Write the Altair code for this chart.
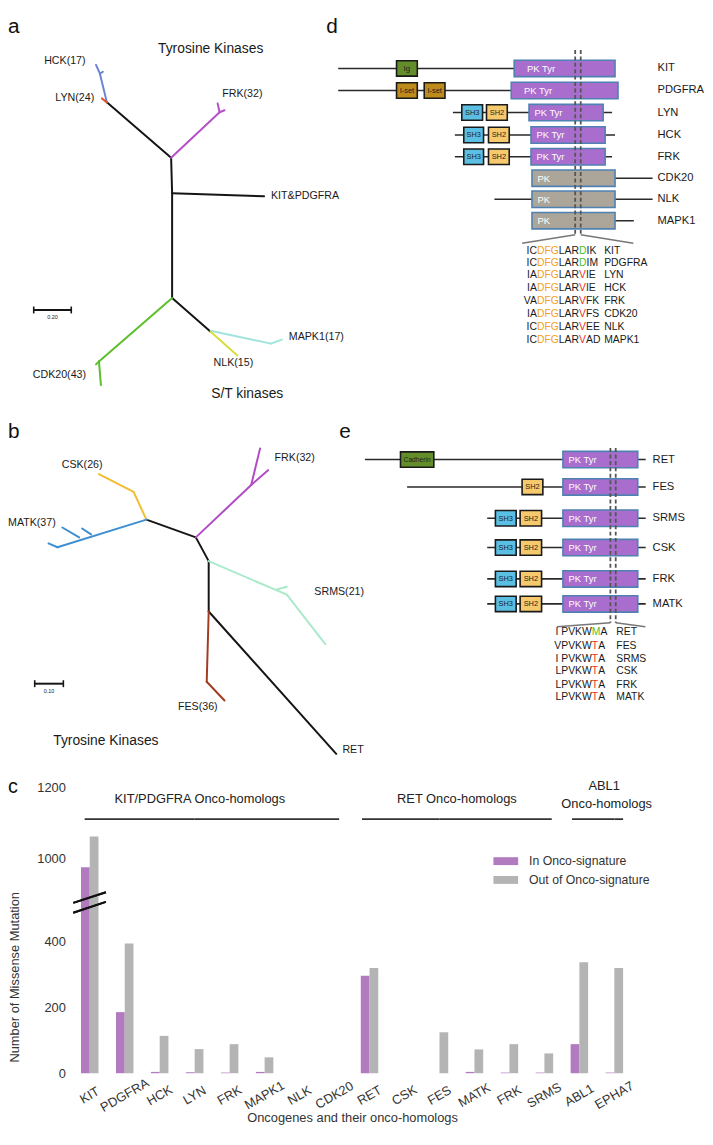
import altair as alt
import pandas as pd

FONT = "Liberation Sans, Arial, Helvetica, sans-serif"

# ====================== Panel c : missense mutation counts ======================
genes = ["KIT", "PDGFRA", "HCK", "LYN", "FRK", "MAPK1", "NLK", "CDK20",
         "RET", "CSK", "FES", "MATK", "FRK", "SRMS", "ABL1", "EPHA7"]
in_signature = [975, 185, 4, 3, 2, 4, 0, 0, 295, 0, 0, 4, 2, 2, 88, 2]
out_signature = [1062, 393, 113, 73, 88, 48, 0, 0, 319, 0, 124, 72, 88, 60, 336, 319]
series = ["In Onco-signature", "Out of Onco-signature"]
series_colors = ["#b27bc0", "#b4b4b4"]
y_tick_values = [0, 200, 400, 1000, 1200]
group_names = ["KIT/PDGFRA Onco-homologs", "RET Onco-homologs", "ABL1", "Onco-homologs"]
group_spans = [(0, 7), (8, 13), (14, 15)]

# ====================== Panels a & b : trees (layout units) ======================
BLACK = "#151515"
tree_a_edges = [
    (108, 97, 173, 153, BLACK), (173, 153, 174, 189, BLACK), (174, 189, 267, 192, BLACK),
    (174, 189, 174, 295, BLACK), (174, 295, 213, 329, BLACK),
    (173, 153, 222, 107, "#b54fc8"), (222, 107, 220, 98, "#b54fc8"), (222, 107, 227, 105, "#b54fc8"),
    (108, 97, 101, 68, "#6a84d4"), (101, 68, 97, 59, "#6a84d4"), (101, 68, 104, 66, "#6a84d4"),
    (108, 97, 103, 93, "#e0502a"),
    (213, 328, 274, 341, "#a0e4dc"), (274, 341, 285, 337, "#a0e4dc"),
    (213, 329, 240, 353, "#d9dd3c"),
    (174, 295, 100, 359, "#5cbf2a"), (100, 359, 102, 383, "#5cbf2a"), (100, 359, 97, 362, "#5cbf2a"),
]
tree_a_labels = [("HCK(17)", 65.5, 55, "center"), ("LYN(24)", 75.5, 93, "center"),
                 ("FRK(32)", 245, 89, "center"), ("KIT&PDGFRA", 274, 192, "left"),
                 ("MAPK1(17)", 292, 334, "left"), ("NLK(15)", 236, 361, "center"),
                 ("CDK20(43)", 60, 373, "center")]
tree_b_edges = [
    (148, 519, 198, 537, BLACK), (198, 537, 211, 561, BLACK), (211, 561, 211, 612, BLACK),
    (211, 612, 340, 756, BLACK),
    (148, 519, 135, 491, "#f2bd32"), (135, 491, 100, 473, "#f2bd32"),
    (148, 519, 58, 547, "#3f8fd2"), (58, 547, 49, 543, "#3f8fd2"),
    (80, 537, 63, 527, "#3f8fd2"), (92, 534, 83, 528, "#3f8fd2"),
    (198, 537, 254, 484, "#b04cc6"), (254, 484, 263, 447, "#b04cc6"), (254, 484, 271, 469, "#b04cc6"),
    (211, 561, 290, 595, "#a9eacb"), (290, 595, 329, 645, "#a9eacb"), (279, 590, 290, 587, "#a9eacb"),
    (211, 612, 209, 683, "#a23c22"), (209, 683, 227, 702, "#a23c22"),
]
tree_b_labels = [("CSK(26)", 83, 464, "center"), ("MATK(37)", 8, 523, "left"),
                 ("FRK(32)", 298, 457, "center"), ("SRMS(21)", 343, 592, "center"),
                 ("FES(36)", 200, 709, "center"), ("RET", 357, 752, "center")]
scale_bars = [(34, 72, 307, "0.20"), (35, 64, 685, "0.10")]
titles = [("Tyrosine Kinases", 213, 43), ("S/T kinases", 250, 392), ("Tyrosine Kinases", 107, 743)]
panel_letters = [("a", 8, 27), ("d", 330, 27), ("b", 8, 436), ("e", 343, 436)]

# ====================== Panel d : domain architecture (alignment units) ======================
d_genes = ["KIT", "PDGFRA", "LYN", "HCK", "FRK", "CDK20", "NLK", "MAPK1"]
d_row_y = [62.7, 85, 107.3, 130, 152, 173.7, 195, 216.7]
d_backbone = [(342, 520), (342, 517), (458, 619), (460, 622), (460, 619), (538, 660), (500, 660), (538, 641)]
d_kinase = [(520, 622), (517, 625), (535, 610), (537, 612), (537, 612), (538, 622), (538, 622), (538, 622)]
d_kinase_name = ["PK Tyr"] * 5 + ["PK"] * 3
d_domains = [[("Ig", 401, 422)], [("I-set", 401, 422), ("I-set", 429, 450)],
             [("SH3", 467, 488), ("SH2", 492, 513)], [("SH3", 469, 489), ("SH2", 494, 515)],
             [("SH3", 469, 489), ("SH2", 494, 515)], [], [], []]
d_seqs = ["ICDFGLARDIK", "ICDFGLARDIM", "IADFGLARVIE", "IADFGLARVIE",
          "VADFGLARVFK", "IADFGLARVFS", "ICDFGLARVEE", "ICDFGLARVAD"]
d_seq_y = [247, 259.7, 271.5, 284.7, 298, 311.3, 324.5, 337]

# ====================== Panel e ======================
e_genes = ["RET", "FES", "SRMS", "CSK", "FRK", "MATK"]
e_row_y = [458.3, 486, 517.7, 547.3, 579, 604.3]
e_backbone = [(369, 653), (411.7, 653), (492.7, 653), (492.7, 653), (492.7, 653), (492.7, 653)]
e_kinase = [(569.3, 645)] * 6
e_domains = [[("Cadherin", 405, 438.7)], [("SH2", 528, 549)]] + [[("SH3", 501, 522), ("SH2", 526, 547.7)]] * 4
e_prefix = ["I PVKW", "VPVKW", "I PVKW", "LPVKW", "LPVKW", "LPVKW"]
e_residue = ["M", "T", "T", "T", "T", "T"]
e_suffix = ["A", " A", " A", " A", " A", " A"]
e_seq_y = [632.7, 646.7, 660, 672.7, 686, 698.7]

DOMAIN_FILL = {"Ig": "#638d2a", "Cadherin": "#638d2a", "I-set": "#bd8a1c",
               "SH3": "#5bbfe3", "SH2": "#f7c96d"}
DOMAIN_SIZE = {"Ig": 8, "Cadherin": 6.8, "I-set": 7.5, "SH3": 7.5, "SH2": 7.5}
KIN_FILL = {"PK Tyr": "#a86dcd", "PK": "#aba699"}
ORANGE, GREEN, RED = "#f4a020", "#55c02a", "#e8321e"

# Arial / Liberation Sans advance widths (em), used to line up the coloured residues
ADV = {'A': .667, 'C': .722, 'D': .722, 'E': .667, 'F': .611, 'G': .778, 'I': .278, 'K': .667,
       'L': .556, 'M': .833, 'P': .667, 'R': .722, 'S': .667, 'T': .611, 'V': .667, 'W': .944, ' ': .278}


def tw(s, fs):
    return sum(ADV.get(c, .6) for c in s) * fs


# ====================== canvas (panels a, b, d, e) ======================
X = alt.X("x:Q", scale=alt.Scale(domain=[73, 705], nice=False, zero=False), axis=None)
Y = alt.Y("y:Q", scale=alt.Scale(domain=[8, 779], reverse=True, nice=False, zero=False), axis=None)


def rules(rows, dash=None, cap="butt"):
    df = pd.DataFrame(rows, columns=["x", "y", "x2", "y2", "color", "w"])
    kw = {"strokeCap": cap}
    if dash:
        kw["strokeDash"] = dash
    return alt.Chart(df).mark_rule(**kw).encode(
        x=X, y=Y, x2="x2:Q", y2="y2:Q",
        color=alt.Color("color:N", scale=None),
        strokeWidth=alt.StrokeWidth("w:Q", scale=None))


def rects(rows):
    df = pd.DataFrame(rows, columns=["x", "x2", "y", "y2", "fill", "stroke", "w"])
    return alt.Chart(df).mark_rect().encode(
        x=X, x2="x2:Q", y=Y, y2="y2:Q",
        fill=alt.Fill("fill:N", scale=None), stroke=alt.Stroke("stroke:N", scale=None),
        strokeWidth=alt.StrokeWidth("w:Q", scale=None))


def texts(rows, align, baseline="middle"):
    df = pd.DataFrame(rows, columns=["x", "y", "text", "size", "color"])
    return alt.Chart(df).mark_text(align=align, baseline=baseline, font=FONT).encode(
        x=X, y=Y, text="text:N", size=alt.Size("size:Q", scale=None),
        color=alt.Color("color:N", scale=None))


tree_rows = [(x1, y1, x2, y2, c, 2.0) for (x1, y1, x2, y2, c) in tree_a_edges + tree_b_edges]
bar_rows = []
for (xa, xb, yy, lab) in scale_bars:
    bar_rows += [(xa, yy, xb, yy, BLACK, 2.0), (xa, yy - 3.5, xa, yy + 3.5, BLACK, 1.6),
                 (xb, yy - 3.5, xb, yy + 3.5, BLACK, 1.6)]

backbone_rows, box_rows, left_txt, center_txt, right_txt = [], [], [], [], []
dash_rows, fan_rows = [], []

for g, yy, (b0, b1), (k0, k1), kn, doms in zip(d_genes, d_row_y, d_backbone, d_kinase, d_kinase_name, d_domains):
    backbone_rows.append((b0, yy, b1, yy, "#2a2a2a", 1.6))
    box_rows.append((k0, k1, yy - 8.3, yy + 8.3, KIN_FILL[kn], "#4f81b3", 1.6))
    pad = 13 if g in ("KIT", "PDGFRA") else 5.5
    left_txt.append((k0 + pad, yy + 0.5, kn, 9.5, "#ffffff"))
    for name, s0, s1 in doms:
        box_rows.append((s0, s1, yy - 7.8, yy + 7.8, DOMAIN_FILL[name], "#1a1a1a", 1.6))
        center_txt.append(((s0 + s1) / 2, yy + 0.5, name, DOMAIN_SIZE[name], "#1f1f1f"))
    left_txt.append((665, yy, g, 11.3, "#1a1a1a"))

for g, yy, (b0, b1), (k0, k1), doms in zip(e_genes, e_row_y, e_backbone, e_kinase, e_domains):
    backbone_rows.append((b0, yy, b1, yy, "#2a2a2a", 1.6))
    box_rows.append((k0, k1, yy - 8.3, yy + 8.3, KIN_FILL["PK Tyr"], "#4f81b3", 1.6))
    left_txt.append((k0 + 5.7, yy + 0.5, "PK Tyr", 9.5, "#ffffff"))
    for name, s0, s1 in doms:
        box_rows.append((s0, s1, yy - 7.8, yy + 7.8, DOMAIN_FILL[name], "#1a1a1a", 1.6))
        center_txt.append(((s0 + s1) / 2, yy + 0.5, name, DOMAIN_SIZE[name], "#1f1f1f"))
    left_txt.append((660, yy, g, 11.3, "#1a1a1a"))

for xd in (581.7, 587.3):
    dash_rows.append((xd, 44, xd, 231, "#555555", 1.8))
for xd in (617.3, 622.7):
    dash_rows.append((xd, 446.7, xd, 623.3, "#555555", 1.8))
fan_rows += [(581.7, 231, 528, 239.5, "#777777", 1.5), (587.3, 231, 640.5, 239.5, "#777777", 1.5),
             (617.3, 623.3, 563.3, 627.3, "#777777", 1.5), (622.7, 623.3, 652.7, 627.3, "#777777", 1.5)]

SFS = 10.5
DFG_X = 543
for s, yy, g in zip(d_seqs, d_seq_y, d_genes):
    right_txt.append((DFG_X, yy, s[:2], SFS, "#1a1a1a"))
    x1 = DFG_X
    left_txt.append((x1, yy, s[2:5], SFS, ORANGE))
    x2 = x1 + tw(s[2:5], SFS)
    left_txt.append((x2, yy, s[5:8], SFS, "#1a1a1a"))
    x3 = x2 + tw(s[5:8], SFS)
    left_txt.append((x3, yy, s[8], SFS, GREEN if s[8] == "D" else RED))
    x4 = x3 + tw(s[8], SFS)
    left_txt.append((x4, yy, s[9:], SFS, "#1a1a1a"))
    left_txt.append((611, yy, g, SFS, "#1a1a1a"))

RES_X = 598.5
for p, r, sf, yy, g in zip(e_prefix, e_residue, e_suffix, e_seq_y, e_genes):
    right_txt.append((RES_X, yy, p, SFS, "#1a1a1a"))
    left_txt.append((RES_X, yy, r, SFS, GREEN if r == "M" else RED))
    left_txt.append((RES_X + tw(r, SFS), yy, sf, SFS, "#1a1a1a"))
    left_txt.append((623.3, yy, g, SFS, "#1a1a1a"))

for (t, x, y, al) in tree_a_labels + tree_b_labels:
    (left_txt if al == "left" else center_txt).append((x, y, t, 10.8, "#1a1a1a"))
for (t, x, y) in titles:
    center_txt.append((x, y, t, 14, "#1a1a1a"))
for (xa, xb, yy, lab) in scale_bars:
    center_txt.append(((xa + xb) / 2, yy + 7, lab, 5.5, "#1a1a1a"))
letters = [(x, y, t, 21, "#111111") for (t, x, y) in panel_letters]

canvas = alt.layer(
    rules(tree_rows, cap="round"),
    rules(bar_rows),
    rules(backbone_rows),
    rules(fan_rows),
    rects(box_rows),
    rules(dash_rows, dash=[4, 2.5]),
    texts(left_txt, "left"),
    texts(center_txt, "center"),
    texts(right_txt, "right"),
    texts(letters, "left", "alphabetic"),
).properties(width=632, height=771)

# ====================== bar chart (panel c) ======================
keys = [f"{g}_{i}" for i, g in enumerate(genes)]
bar_df = pd.DataFrame(
    [{"key": k, "series": series[0], "value": a} for k, a in zip(keys, in_signature)]
    + [{"key": k, "series": series[1], "value": b} for k, b in zip(keys, out_signature)])

XT = "Oncogenes and their onco-homologs"
YT = "Number of Missense Mutation"
xscale = alt.Scale(domain=keys, paddingInner=0.5, paddingOuter=0.25)
yscale = alt.Scale(domain=[0, 500, 880, 1200, 1230.7], range=[300, 133, 125.7, 11, 0],
                   nice=False, zero=False)

bars = alt.Chart(bar_df).mark_bar(strokeWidth=0).encode(
    x=alt.X("key:N", scale=xscale, title=XT, axis=alt.Axis(
        labelExpr="split(datum.value, '_')[0]", labelAngle=330, labelAlign="center",
        labelBaseline="middle", labelPadding=22, ticks=False, tickSize=0, domain=False,
        labelOverlap=False, labelFont=FONT, labelFontSize=13, labelColor="#333333",
        titleFont=FONT, titleFontSize=13, titleFontWeight="normal", titleColor="#333333",
        titleBaseline="top", titleY=39, titleX=283, titleAlign="center")),
    xOffset=alt.XOffset("series:N", scale=alt.Scale(domain=series)),
    y=alt.Y("value:Q", scale=yscale, title=YT, axis=alt.Axis(
        values=y_tick_values, format="d", ticks=False, tickSize=0, domain=False, grid=False,
        labelPadding=7, labelFont=FONT, labelFontSize=13, labelColor="#333333",
        titleFont=FONT, titleFontSize=13, titleFontWeight="normal", titleColor="#333333",
        titleAngle=270, titleX=-58, titleY=202.5, titleAlign="center", titleBaseline="middle")),
    color=alt.Color("series:N", scale=alt.Scale(domain=series, range=series_colors),
                    legend=alt.Legend(title=None, orient="none", legendX=426, legendY=844,
                                      symbolType="M-1,-0.32H1V0.32H-1Z", symbolSize=625,
                                      symbolStrokeWidth=0, symbolOpacity=1, labelFont=FONT,
                                      labelFontSize=12.4, labelColor="#333333", labelOffset=11,
                                      rowPadding=0, padding=0)),
)

# rules over each homolog group: each drawn as two halves meeting at a middle band centre
span_parts = [  # (end gene index, band position of that end, middle gene index)
    (0, 0.21, 3), (7, 0.76, 3),
    (8, 0.07, 10), (13, 0.92, 10),
    (14, 0.08, 15), (15, 1.0, 15),
]
span_layers = []
for end_i, bp, mid_i in span_parts:
    sdf = pd.DataFrame({"end": [keys[end_i]], "mid": [keys[mid_i]], "value": [1110.7]})
    span_layers.append(alt.Chart(sdf).mark_rule(color="#333333", strokeWidth=1.8).encode(
        x=alt.X("end:N", scale=xscale, title=XT, bandPosition=bp),
        x2=alt.X2("mid:N"),
        y=alt.Y("value:Q", scale=yscale, title=YT)))

header_layers = []
for name, anchor, dx, val in zip(group_names, [3, 10, 14, 14], [5.2, 17.6, 25, 27.6],
                                 [1167.3, 1167.3, 1204.7, 1153.4]):
    hdf = pd.DataFrame({"key": [keys[anchor]], "value": [val], "text": [name]})
    header_layers.append(alt.Chart(hdf).mark_text(
        font=FONT, fontSize=13, color="#222222", dx=dx, align="center", baseline="middle").encode(
        x=alt.X("key:N", scale=xscale, title=XT), y=alt.Y("value:Q", scale=yscale, title=YT),
        text="text:N"))

c_df = pd.DataFrame({"value": [1183.3], "text": ["c"]})
c_label = alt.Chart(c_df).mark_text(font=FONT, fontSize=20, color="#111111", align="left",
                                     baseline="alphabetic").encode(
    x=alt.value(-65), y=alt.Y("value:Q", scale=yscale, title=YT), text="text:N")

brk_df = pd.DataFrame({"k": [0, 1]})
break_marks = alt.layer(
    alt.Chart(brk_df).mark_rule(color="#111111", strokeWidth=2).encode(
        x=alt.value(1), x2=alt.value(34), y=alt.value(127.7), y2=alt.value(117)),
    alt.Chart(brk_df).mark_rule(color="#111111", strokeWidth=2).encode(
        x=alt.value(1), x2=alt.value(34), y=alt.value(137.7), y2=alt.value(126.7)),
)

barchart = alt.layer(bars, *span_layers, *header_layers, c_label, break_marks).properties(
    width=566, height=300)

chart = alt.vconcat(canvas, barchart, spacing=0).properties(padding=0).configure(
    font=FONT, view=alt.ViewConfig(stroke=None))

chart.save("out.html", embed_options={"renderer": "svg", "actions": False})
